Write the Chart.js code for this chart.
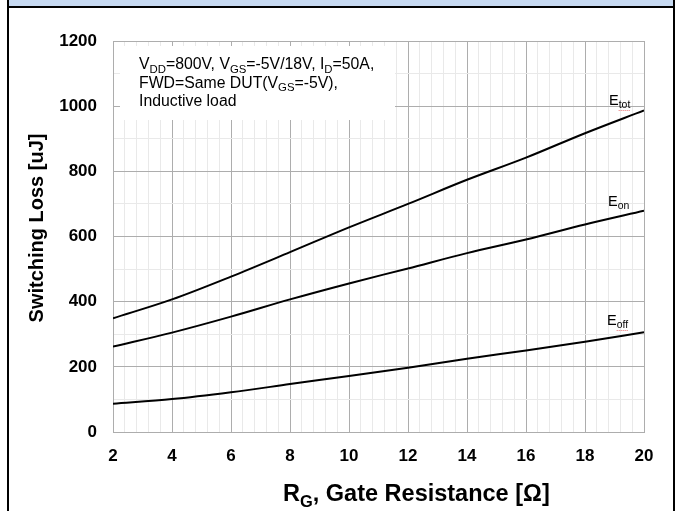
<!DOCTYPE html>
<html>
<head>
<meta charset="utf-8">
<script src="https://cdn.jsdelivr.net/npm/chart.js@4/dist/chart.umd.min.js"></script>
<style>
  html, body { margin: 0; padding: 0; background: #ffffff; }
  #wrap { width: 680px; height: 511px; position: relative; }
  canvas { display: block; }
</style>
</head>
<body>
<div id="wrap"><canvas id="chart" width="680" height="511"></canvas></div>
<script>
// Gate resistance sweep [Ω] and switching energies [uJ]
const gateResistance = [2, 4, 6, 8, 10, 12, 14, 16, 18, 20];
const eTot = [349, 407, 477, 552, 628, 700, 774, 842, 917, 987];
const eOn  = [262, 305, 354, 407, 456, 502, 549, 591, 637, 679];
const eOff = [87, 101, 122, 147, 172, 197, 225, 250, 277, 306];

// Labelled (major) ticks on each axis
const xTickLabels = [2, 4, 6, 8, 10, 12, 14, 16, 18, 20];
const yTickLabels = [0, 200, 400, 600, 800, 1000, 1200];
// Light minor grid subdivisions between labelled ticks
const xMinorDiv = 5;   // 5 parts between 2-Ω labels
const yMinorDiv = 2;   // 2 parts between 200-uJ labels

const FONT = "'Liberation Sans', Arial, Helvetica, sans-serif";
const MAJOR_GRID = '#adadad';
const MINOR_GRID = '#e9e9e9';

function withMinor(major, div) {
  const out = [];
  for (let i = 0; i < major.length - 1; i++) {
    const a = major[i], b = major[i + 1];
    for (let k = 0; k < div; k++) out.push(Math.round((a + (b - a) * k / div) * 1000) / 1000);
  }
  out.push(major[major.length - 1]);
  return out;
}
const isMajor = (list, v) => list.some(m => Math.abs(m - v) < 1e-6);

function series(ys) { return gateResistance.map((x, i) => ({ x: x, y: ys[i] })); }

// Draw a run of text pieces, some of them subscripts
function richWidth(ctx, parts, size, weight, subRatio) {
  let w = 0;
  for (const p of parts) {
    const s = p.sub ? size * subRatio : size;
    ctx.font = `${weight} ${s}px ${FONT}`;
    w += ctx.measureText(p.t).width;
  }
  return w;
}
function drawRich(ctx, parts, x, y, size, weight, subRatio) {
  ctx.textAlign = 'left';
  ctx.textBaseline = 'alphabetic';
  let cx = x;
  const spans = [];
  for (const p of parts) {
    const s = p.sub ? size * subRatio : size;
    const dy = p.sub ? size * 0.24 : 0;
    ctx.font = `${weight} ${s}px ${FONT}`;
    ctx.fillText(p.t, cx, y + dy);
    const w = ctx.measureText(p.t).width;
    spans.push({ x: cx, w: w, y: y + dy, sub: !!p.sub });
    cx += w;
  }
  return spans;
}

const annotationLines = [
  [{ t: 'V' }, { t: 'DD', sub: true }, { t: '=800V, V' }, { t: 'GS', sub: true }, { t: '=-5V/18V, I' }, { t: 'D', sub: true }, { t: '=50A,' }],
  [{ t: 'FWD=Same DUT(V' }, { t: 'GS', sub: true }, { t: '=-5V),' }],
  [{ t: 'Inductive load' }]
];

const curveLabels = [
  { parts: [{ t: 'E' }, { t: 'tot', sub: true }], x: 609, y: 105, mark: true },
  { parts: [{ t: 'E' }, { t: 'on', sub: true }], x: 608, y: 206, mark: false },
  { parts: [{ t: 'E' }, { t: 'off', sub: true }], x: 607, y: 325, mark: true }
];

const decor = {
  id: 'decor',
  beforeDraw(chart) {
    const ctx = chart.ctx;
    ctx.save();
    ctx.fillStyle = '#ffffff';
    ctx.fillRect(0, 0, chart.width, chart.height);
    ctx.restore();
  },
  beforeDatasetsDraw(chart) {
    // white note box laid over the grid
    const ctx = chart.ctx;
    ctx.save();
    ctx.fillStyle = '#ffffff';
    ctx.fillRect(120, 46, 275, 74);
    ctx.restore();
  },
  afterDraw(chart) {
    const ctx = chart.ctx;
    ctx.save();

    // frame and banner
    ctx.fillStyle = '#c6d9f1';
    ctx.fillRect(9, 0, 664, 6);
    ctx.fillStyle = '#000000';
    ctx.fillRect(7, 0, 2, chart.height);
    ctx.fillRect(673, 0, 2, chart.height);
    ctx.fillRect(7, 6, 668, 2);

    // test-condition note
    ctx.fillStyle = '#000000';
    const baselines = [69, 87.5, 106];
    annotationLines.forEach((line, i) => drawRich(ctx, line, 139, baselines[i], 15.8, 'normal', 0.72));

    // curve names
    for (const lab of curveLabels) {
      const spans = drawRich(ctx, lab.parts, lab.x, lab.y, 14.5, 'normal', 0.72);
      if (lab.mark) {
        const s = spans[1];
        ctx.save();
        ctx.strokeStyle = 'rgba(225,70,70,0.75)';
        ctx.lineWidth = 1;
        ctx.setLineDash([1, 1]);
        ctx.beginPath();
        ctx.moveTo(s.x, Math.round(s.y) + 2.5);
        ctx.lineTo(s.x + s.w, Math.round(s.y) + 2.5);
        ctx.stroke();
        ctx.restore();
      }
    }

    // axis titles
    ctx.fillStyle = '#000000';
    const xTitle = [{ t: 'R' }, { t: 'G', sub: true }, { t: ', Gate Resistance [Ω]' }];
    drawRich(ctx, xTitle, 283, 501, 23.5, 'bold', 0.7);

    const yTitle = [{ t: 'Switching Loss [uJ]' }];
    const wy = richWidth(ctx, yTitle, 20, 'bold', 0.7);
    ctx.translate(43, 228);
    ctx.rotate(-Math.PI / 2);
    drawRich(ctx, yTitle, -wy / 2, 0, 20, 'bold', 0.7);

    ctx.restore();
  }
};

const lineStyle = {
  borderColor: '#000000',
  backgroundColor: '#000000',
  borderWidth: 2,
  pointRadius: 0,
  fill: false,
  cubicInterpolationMode: 'monotone'
};

new Chart(document.getElementById('chart'), {
  type: 'line',
  data: {
    datasets: [
      Object.assign({ label: 'Etot', data: series(eTot) }, lineStyle),
      Object.assign({ label: 'Eon', data: series(eOn) }, lineStyle),
      Object.assign({ label: 'Eoff', data: series(eOff) }, lineStyle)
    ]
  },
  options: {
    responsive: false,
    devicePixelRatio: 1,
    animation: false,
    events: [],
    layout: { padding: { left: 0, right: 36, top: 41, bottom: 0 } },
    plugins: {
      legend: { display: false },
      title: { display: false },
      tooltip: { enabled: false }
    },
    scales: {
      x: {
        type: 'linear',
        min: 2,
        max: 20,
        afterBuildTicks(scale) {
          scale.ticks = withMinor(xTickLabels, xMinorDiv).map(v => ({ value: v }));
        },
        afterFit(scale) {
          scale.height = 79;
          scale.paddingLeft = 0;
          scale.paddingRight = 0;
        },
        ticks: {
          autoSkip: false,
          maxRotation: 0,
          minRotation: 0,
          padding: 14,
          color: '#000000',
          font: { family: FONT, size: 17, weight: 'bold' },
          callback: v => (isMajor(xTickLabels, v) ? String(Math.round(v)) : '')
        },
        grid: {
          drawTicks: false,
          lineWidth: 1,
          color: c => (isMajor(xTickLabels, c.tick.value) ? MAJOR_GRID : MINOR_GRID)
        },
        border: { display: true, color: MAJOR_GRID, width: 1 }
      },
      y: {
        type: 'linear',
        min: 0,
        max: 1200,
        afterBuildTicks(scale) {
          scale.ticks = withMinor(yTickLabels, yMinorDiv).map(v => ({ value: v }));
        },
        afterFit(scale) {
          scale.width = 113;
          scale.paddingTop = 0;
          scale.paddingBottom = 0;
        },
        ticks: {
          autoSkip: false,
          padding: 16,
          color: '#000000',
          font: { family: FONT, size: 17, weight: 'bold' },
          callback: v => (isMajor(yTickLabels, v) ? String(v) : '')
        },
        grid: {
          drawTicks: false,
          lineWidth: 1,
          color: c => (isMajor(yTickLabels, c.tick.value) ? MAJOR_GRID : MINOR_GRID)
        },
        border: { display: true, color: MAJOR_GRID, width: 1 }
      }
    }
  },
  plugins: [decor]
});
</script>
</body>
</html>
